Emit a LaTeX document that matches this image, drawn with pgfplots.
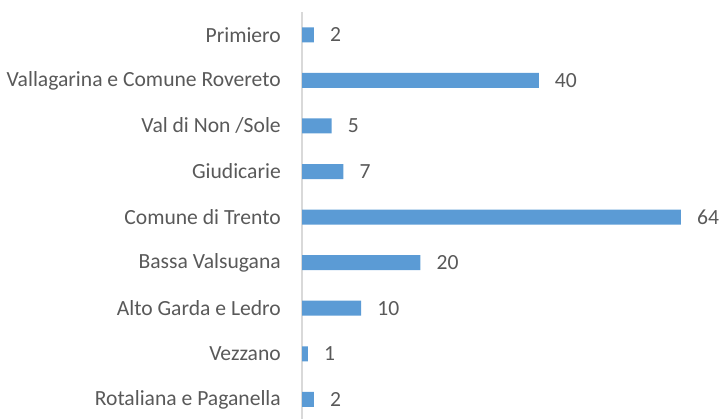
\documentclass[border=0pt]{standalone}
\usepackage{pgfplots}
\pgfplotsset{compat=1.18}
\usepackage{fontspec}
\setmainfont{Carlito}
\definecolor{barblue}{HTML}{5B9BD5}
\definecolor{txt}{HTML}{595959}
\definecolor{axl}{HTML}{D9D9D9}
\begin{document}
\begin{tikzpicture}
\useasboundingbox (0,0) rectangle (721bp,419bp);
\begin{axis}[at={(302bp,0bp)}, anchor=south west, scale only axis,
  width=400bp, height=407bp,
  xbar, bar width=15bp,
  xmin=0, xmax=67.57, ymin=-0.43, ymax=8.5,
  hide x axis,
  axis y line=left,
  y axis line style={draw=axl, -, line width=1.3bp},
  ytick={0,...,8},
  yticklabels={Rotaliana e Paganella, Vezzano, Alto Garda e Ledro, Bassa Valsugana, Comune di Trento, Giudicarie, Val di Non /Sole, Vallagarina e Comune Rovereto, Primiero},
  major tick length=0pt,
  yticklabel style={font=\fontsize{21.6bp}{26bp}\selectfont, text=txt, inner sep=0pt, xshift=-21bp},
  nodes near coords,
  nodes near coords style={anchor=west, inner sep=0pt, xshift=16bp, font=\fontsize{21.6bp}{26bp}\selectfont, text=txt, /pgf/number format/assume math mode=true},
  clip=false,
]
\addplot[draw=none, fill=barblue] coordinates {(2,8) (40,7) (5,6) (7,5) (64,4) (20,3) (10,2) (1,1) (2,0)};
\end{axis}
\end{tikzpicture}
\end{document}
